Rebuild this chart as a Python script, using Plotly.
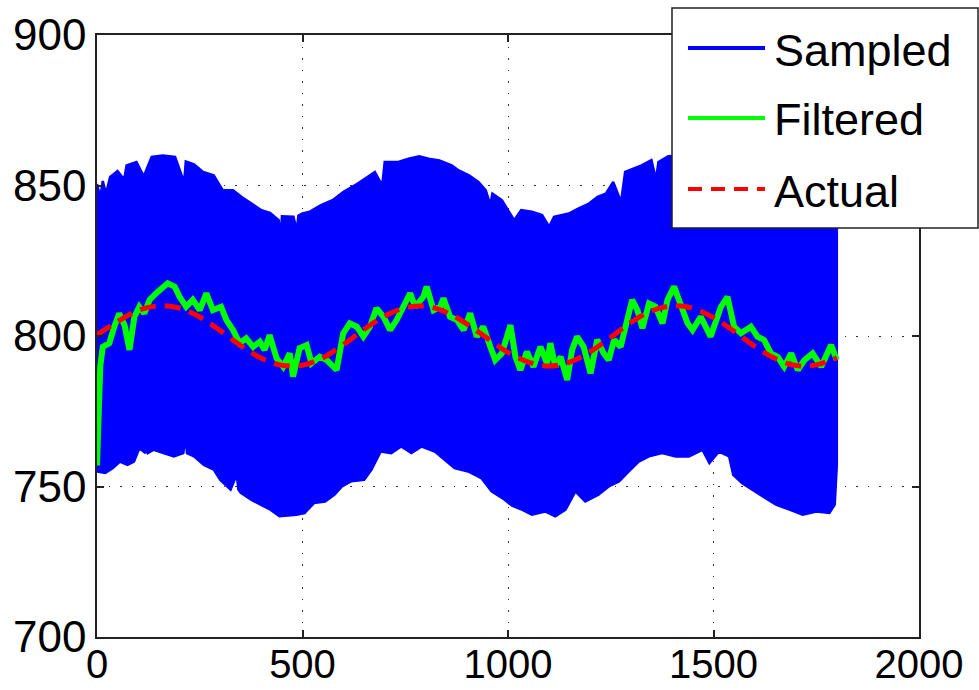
import plotly.graph_objects as go

# Sampled signal: upper and lower edges of the noisy band
sampled_upper_x = [0, 8, 14, 22, 32, 50, 66, 72, 96, 114, 121, 133, 160, 190, 212, 216,
                   236, 258, 284, 306, 331, 352, 376, 400, 421, 442, 447, 450, 478, 486,
                   490, 500, 518, 545, 573, 600, 628, 652, 676, 694, 700, 733, 758, 784,
                   807, 833, 863, 880, 905, 928, 946, 957, 962, 985, 1015, 1032, 1058,
                   1083, 1100, 1112, 1148, 1172, 1197, 1218, 1238, 1256, 1275, 1285,
                   1325, 1349, 1360, 1366, 1390, 1420, 1455, 1500, 1550, 1600, 1650,
                   1700, 1750, 1800]
sampled_upper_y = [850.5, 846.0, 851.5, 847.3, 852.8, 854.8, 852.0, 856.7, 857.8, 853.0,
                   855.5, 859.5, 860.0, 859.5, 851.0, 858.0, 857.0, 854.5, 853.4, 848.4,
                   848.4, 846.2, 844.0, 841.8, 840.9, 838.5, 833.0, 839.8, 839.6, 835.0,
                   840.0, 840.7, 841.3, 843.5, 845.1, 847.9, 850.1, 852.3, 854.5, 850.0,
                   857.8, 857.8, 858.9, 859.7, 858.9, 858.3, 856.7, 855.0, 853.4, 851.2,
                   848.4, 843.5, 847.3, 845.1, 838.5, 841.8, 841.3, 840.2, 836.3, 839.6,
                   840.7, 842.4, 844.0, 846.2, 847.3, 851.2, 844.5, 854.5, 856.7, 858.4,
                   852.0, 857.8, 859.7, 860.0, 858.5, 856.5, 852.0, 847.5, 843.0, 840.0,
                   840.5, 842.5]

sampled_lower_x = [0, 20, 38, 56, 74, 90, 103, 118, 120, 124, 138, 162, 187, 210, 215,
                   219, 236, 260, 284, 300, 325, 340, 344, 350, 375, 398, 422, 444, 485,
                   505, 528, 555, 578, 596, 618, 650, 668, 690, 716, 740, 765, 790, 822,
                   846, 870, 903, 935, 960, 992, 1010, 1034, 1058, 1090, 1115, 1140,
                   1164, 1188, 1220, 1245, 1270, 1294, 1318, 1343, 1375, 1408, 1440,
                   1473, 1490, 1513, 1538, 1548, 1570, 1595, 1620, 1652, 1685, 1717,
                   1750, 1782, 1795, 1800]
sampled_lower_y = [755.0, 754.5, 756.1, 758.3, 757.2, 758.3, 762.7, 761.1, 765.5, 761.1,
                   762.2, 761.1, 760.0, 761.1, 766.5, 761.1, 760.0, 757.2, 755.6, 752.2,
                   749.0, 754.0, 749.0, 747.9, 745.6, 744.0, 742.3, 740.1, 740.6, 741.2,
                   744.5, 745.0, 747.3, 750.0, 751.7, 752.2, 755.6, 761.6, 761.1, 763.3,
                   761.1, 763.3, 761.6, 758.9, 756.1, 755.0, 752.8, 748.4, 745.6, 743.6,
                   742.3, 740.6, 741.7, 740.1, 742.3, 748.4, 745.0, 747.3, 750.0, 751.7,
                   755.0, 758.3, 760.0, 761.1, 760.0, 760.0, 762.2, 757.8, 761.6, 760.0,
                   753.9, 751.1, 749.0, 746.7, 744.0, 742.3, 740.6, 741.7, 741.2, 744.0,
                   757.0]

# Filtered estimate
filtered_x = [0, 4, 8, 14, 30, 42, 54, 67, 79, 91, 103, 115, 128, 144, 160, 172, 189, 201,
              217, 233, 250, 266, 282, 302, 315, 331, 347, 363, 380, 396, 408, 420, 437,
              453, 469, 477, 493, 510, 522, 542, 559, 583, 599, 615, 632, 648, 664, 680,
              697, 713, 729, 750, 762, 774, 794, 802, 819, 835, 843, 859, 876, 892, 908,
              924, 940, 957, 969, 985, 1006, 1018, 1030, 1046, 1062, 1079, 1095, 1103,
              1115, 1128, 1144, 1156, 1168, 1184, 1201, 1217, 1233, 1245, 1258, 1274,
              1290, 1302, 1315, 1327, 1343, 1359, 1376, 1388, 1404, 1420, 1437, 1449,
              1469, 1493, 1518, 1534, 1550, 1567, 1591, 1607, 1623, 1640, 1656, 1672,
              1689, 1705, 1721, 1741, 1762, 1786, 1800]
filtered_y = [757, 775, 790, 796.4, 797.6, 803.1, 807.5, 803.6, 795.4, 806.4, 809.7, 807.5,
              812.0, 814.2, 816.4, 817.5, 816.4, 813.0, 809.7, 812.0, 808.6, 814.2, 808.6,
              809.7, 805.3, 802.0, 797.6, 799.2, 796.4, 798.1, 795.4, 800.3, 792.6, 789.8,
              794.2, 786.5, 796.0, 797.0, 790.9, 793.1, 792.0, 788.7, 800.9, 804.2, 803.1,
              799.8, 803.1, 809.2, 806.4, 802.0, 805.3, 811.4, 814.2, 809.7, 813.0, 816.4,
              808.6, 809.7, 812.5, 806.4, 805.3, 802.0, 807.5, 799.8, 803.1, 796.4, 792.0,
              794.2, 803.6, 793.1, 788.7, 794.8, 789.8, 796.4, 790.9, 797.6, 789.8, 793.1,
              785.4, 795.4, 799.8, 796.4, 787.6, 798.7, 794.2, 792.0, 798.7, 796.4, 805.3,
              812.0, 808.6, 802.6, 810.8, 809.7, 804.2, 812.0, 816.4, 810.8, 804.2, 802.0,
              806.4, 799.8, 809.7, 813.0, 803.1, 800.9, 803.1, 799.8, 798.7, 794.2, 793.1,
              789.8, 794.2, 788.7, 792.0, 794.2, 789.8, 797.0, 792.0]

# Actual (true) value
actual_x = list(range(0, 1801, 50))
actual_y = [800.4, 804.8, 808.5, 810.0, 809.3, 806.3, 801.8, 796.8, 792.6, 790.3,
            790.3, 792.8, 797.2, 802.2, 806.6, 809.4, 809.9, 807.9, 804.0, 799.2,
            794.5, 791.3, 790.0, 791.3, 794.8, 799.6, 804.6, 808.4, 810.0, 809.2,
            806.1, 801.6, 796.6, 792.5, 790.2, 790.4, 792.8]

legend_names = ["Sampled", "Filtered", "Actual"]
legend_colors = ["#0000FF", "#00FF00", "#FF0000"]
legend_dashes = ["solid", "solid", "14px,9px"]

x_ticks = [0, 500, 1000, 1500, 2000]
y_ticks = [700, 750, 800, 850, 900]

fig = go.Figure()

# Sampled band: upper edge forward, lower edge back, filled
band_x = sampled_upper_x + sampled_lower_x[::-1]
band_y = sampled_upper_y + sampled_lower_y[::-1]
fig.add_trace(go.Scatter(
    x=band_x, y=band_y, mode="lines", fill="toself", fillcolor="#0000FF",
    line=dict(color="#0000FF", width=2.5, shape="linear"), name="Sampled", showlegend=False,
))
fig.add_trace(go.Scatter(
    x=filtered_x, y=filtered_y, mode="lines",
    line=dict(color="#00FF00", width=6), name="Filtered", showlegend=False,
))
fig.add_trace(go.Scatter(
    x=actual_x, y=actual_y, mode="lines",
    line=dict(color="#FF0000", width=5, dash="16px,9px", shape="spline"),
    name="Actual", showlegend=False,
))

axis_common = dict(
    showline=True, linecolor="#222222", linewidth=1.5, mirror="ticks",
    ticks="inside", ticklen=7, tickwidth=1.5, tickcolor="#222222",
    showgrid=True, gridcolor="#333333", gridwidth=1, griddash="1.5px,10px",
    zeroline=False, automargin=False,
)
fig.update_xaxes(range=[0, 2000], tickvals=x_ticks, ticklabelstandoff=-9,
                 tickfont=dict(family="Liberation Sans", size=40, color="black"),
                 **axis_common)
fig.update_yaxes(range=[700, 900], tickvals=y_ticks, ticklabelstandoff=0,
                 tickfont=dict(family="Liberation Sans", size=44, color="black"),
                 **axis_common)

# Legend drawn in paper coordinates, overlapping the top-right corner
L, R, T, B = 97, 919, 35, 637
W, H = R - L, B - T
px = lambda v: (v - L) / W
py = lambda v: (B - v) / H

shapes = [dict(type="rect", xref="paper", yref="paper", layer="above",
               x0=px(672), x1=px(978), y0=py(228), y1=py(8),
               fillcolor="white", line=dict(color="#222222", width=1.5))]
annotations = []
row_y = [48, 118, 189]
for name, color, dash, ry in zip(legend_names, legend_colors, legend_dashes, row_y):
    shapes.append(dict(type="line", xref="paper", yref="paper", layer="above",
                       x0=px(688), x1=px(765), y0=py(ry), y1=py(ry),
                       line=dict(color=color, width=4, dash=dash)))
    annotations.append(dict(text=name, xref="paper", yref="paper", x=px(772), y=py(ry + 2),
                            xanchor="left", yanchor="middle", showarrow=False,
                            font=dict(family="Liberation Sans", size=45, color="black")))

fig.update_layout(
    width=979, height=690,
    margin=dict(l=L, r=979 - R, t=T, b=690 - B),
    paper_bgcolor="white", plot_bgcolor="white",
    showlegend=False, shapes=shapes, annotations=annotations,
)

fig.write_html("out.html")
